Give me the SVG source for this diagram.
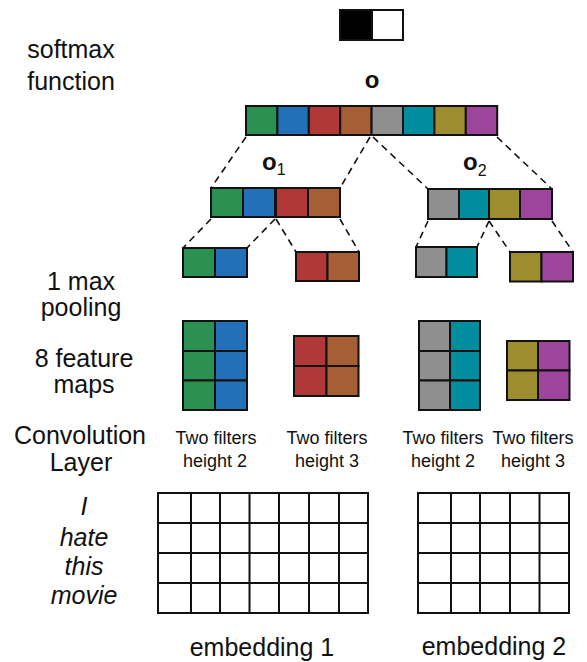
<svg xmlns="http://www.w3.org/2000/svg" width="587" height="662" viewBox="0 0 587 662">
<style>
text{font-family:"Liberation Sans",Arial,sans-serif;fill:#111}
.lab{font-size:25px;text-anchor:middle}
.sm{font-size:18px;text-anchor:middle}
.it{font-size:25px;font-style:italic;text-anchor:middle}
.bold{font-size:24px;font-weight:bold}
.sub{font-size:16px}
rect{stroke:#111;stroke-width:2}
.g{fill:#2a9153}.b{fill:#2170b8}.r{fill:#b03837}.o{fill:#a65e34}
.y{fill:#8f8f8f}.t{fill:#008e9e}.v{fill:#9e8d2e}.p{fill:#9d449d}
.w{fill:#fff}.k{fill:#000}
.grid line{stroke:#111;stroke-width:2}
#connectors line{stroke:#111;stroke-width:1.6;stroke-dasharray:7 5;fill:none}
</style>

<g id="labels">
<text class="lab" x="71" y="58">softmax</text>
<text class="lab" x="71" y="90">function</text>
<text class="lab" x="81" y="290">1 max</text>
<text class="lab" x="81" y="316">pooling</text>
<text class="lab" x="84" y="367">8 feature</text>
<text class="lab" x="84" y="393">maps</text>
<text class="lab" x="80" y="444">Convolution</text>
<text class="lab" x="81" y="471">Layer</text>
<text class="it" x="84" y="515">I</text>
<text class="it" x="84" y="546">hate</text>
<text class="it" x="84" y="575">this</text>
<text class="it" x="84" y="604">movie</text>
<text class="sm" x="216" y="444">Two filters</text>
<text class="sm" x="215" y="467">height 2</text>
<text class="sm" x="327" y="444">Two filters</text>
<text class="sm" x="327" y="467">height 3</text>
<text class="sm" x="443" y="444">Two filters</text>
<text class="sm" x="443" y="467">height 2</text>
<text class="sm" x="533" y="444">Two filters</text>
<text class="sm" x="533" y="467">height 3</text>
<text class="lab" x="262" y="656">embedding 1</text>
<text class="lab" x="494" y="655">embedding 2</text>
</g>

<g id="softmax">
<rect class="k" x="340" y="10" width="32" height="30"/>
<rect class="w" x="372" y="10" width="31" height="30"/>
</g>

<g id="o">
<text class="bold" x="372" y="88" text-anchor="middle">o</text>
<rect class="g" x="246" y="106" width="31.4" height="29"/>
<rect class="b" x="277.4" y="106" width="31.4" height="29"/>
<rect class="r" x="308.8" y="106" width="31.4" height="29"/>
<rect class="o" x="340.2" y="106" width="31.4" height="29"/>
<rect class="y" x="371.6" y="106" width="31.4" height="29"/>
<rect class="t" x="403" y="106" width="31.4" height="29"/>
<rect class="v" x="434.4" y="106" width="31.4" height="29"/>
<rect class="p" x="465.8" y="106" width="31.4" height="29"/>
</g>

<g id="o1">
<text x="262" y="170"><tspan class="bold">o</tspan><tspan class="sub" dy="5">1</tspan></text>
<rect class="g" x="211" y="188" width="32" height="29"/>
<rect class="b" x="243" y="188" width="32" height="29"/>
<rect class="r" x="276" y="188" width="32" height="29"/>
<rect class="o" x="308" y="188" width="32" height="29"/>
</g>

<g id="o2">
<text x="463" y="170"><tspan class="bold">o</tspan><tspan class="sub" dy="6">2</tspan></text>
<rect class="y" x="428" y="189" width="31" height="30"/>
<rect class="t" x="459" y="189" width="30" height="30"/>
<rect class="v" x="489" y="189" width="31" height="30"/>
<rect class="p" x="520" y="189" width="32" height="30"/>
</g>

<g id="pool1">
<rect class="g" x="183" y="248" width="32" height="29"/>
<rect class="b" x="215" y="248" width="32" height="29"/>
</g>
<g id="pool2">
<rect class="r" x="296" y="252" width="31.5" height="29"/>
<rect class="o" x="327.5" y="252" width="31.5" height="29"/>
</g>
<g id="pool3">
<rect class="y" x="416" y="247" width="30.5" height="30"/>
<rect class="t" x="446.5" y="247" width="30.5" height="30"/>
</g>
<g id="pool4">
<rect class="v" x="510" y="252" width="31.5" height="29.5"/>
<rect class="p" x="541.5" y="252" width="31.5" height="29.5"/>
</g>

<g id="fmap1">
<rect class="g" x="183" y="321" width="32" height="30"/>
<rect class="b" x="215" y="321" width="32" height="30"/>
<rect class="g" x="183" y="351" width="32" height="29.5"/>
<rect class="b" x="215" y="351" width="32" height="29.5"/>
<rect class="g" x="183" y="380.5" width="32" height="29.5"/>
<rect class="b" x="215" y="380.5" width="32" height="29.5"/>
</g>
<g id="fmap2">
<rect class="r" x="294" y="336" width="32.5" height="30"/>
<rect class="o" x="326.5" y="336" width="32" height="30"/>
<rect class="r" x="294" y="366" width="32.5" height="30"/>
<rect class="o" x="326.5" y="366" width="32" height="30"/>
</g>
<g id="fmap3">
<rect class="y" x="419" y="321" width="31" height="30"/>
<rect class="t" x="450" y="321" width="30" height="30"/>
<rect class="y" x="419" y="351" width="31" height="29.5"/>
<rect class="t" x="450" y="351" width="30" height="29.5"/>
<rect class="y" x="419" y="380.5" width="31" height="29.5"/>
<rect class="t" x="450" y="380.5" width="30" height="29.5"/>
</g>
<g id="fmap4">
<rect class="v" x="507" y="341" width="31" height="29.5"/>
<rect class="p" x="538" y="341" width="31.5" height="29.5"/>
<rect class="v" x="507" y="370.5" width="31" height="29.5"/>
<rect class="p" x="538" y="370.5" width="31.5" height="29.5"/>
</g>

<g id="embedding1" class="grid">
<rect class="w" x="158" y="493" width="210" height="120"/>
<line x1="191" y1="493" x2="191" y2="613"/>
<line x1="220" y1="493" x2="220" y2="613"/>
<line x1="249.5" y1="493" x2="249.5" y2="613"/>
<line x1="279" y1="493" x2="279" y2="613"/>
<line x1="309" y1="493" x2="309" y2="613"/>
<line x1="339" y1="493" x2="339" y2="613"/>
<line x1="158" y1="523" x2="368" y2="523"/>
<line x1="158" y1="553" x2="368" y2="553"/>
<line x1="158" y1="583" x2="368" y2="583"/>
</g>

<g id="embedding2" class="grid">
<rect class="w" x="418" y="493" width="151" height="120"/>
<line x1="451" y1="493" x2="451" y2="613"/>
<line x1="480" y1="493" x2="480" y2="613"/>
<line x1="510" y1="493" x2="510" y2="613"/>
<line x1="539.5" y1="493" x2="539.5" y2="613"/>
<line x1="418" y1="523" x2="569" y2="523"/>
<line x1="418" y1="553" x2="569" y2="553"/>
<line x1="418" y1="583" x2="569" y2="583"/>
</g>

<g id="connectors">
<line x1="246" y1="137" x2="211" y2="188"/>
<line x1="370" y1="137" x2="340" y2="188"/>
<line x1="373" y1="137" x2="428" y2="189"/>
<line x1="497" y1="137" x2="552" y2="189"/>
<line x1="211" y1="219" x2="183" y2="248"/>
<line x1="275" y1="219" x2="247" y2="248"/>
<line x1="276" y1="219" x2="296" y2="252"/>
<line x1="340" y1="219" x2="359" y2="252"/>
<line x1="428" y1="221" x2="416" y2="247"/>
<line x1="489" y1="221" x2="477" y2="247"/>
<line x1="489" y1="221" x2="510" y2="252"/>
<line x1="552" y1="221" x2="573" y2="252"/>
</g>
</svg>
